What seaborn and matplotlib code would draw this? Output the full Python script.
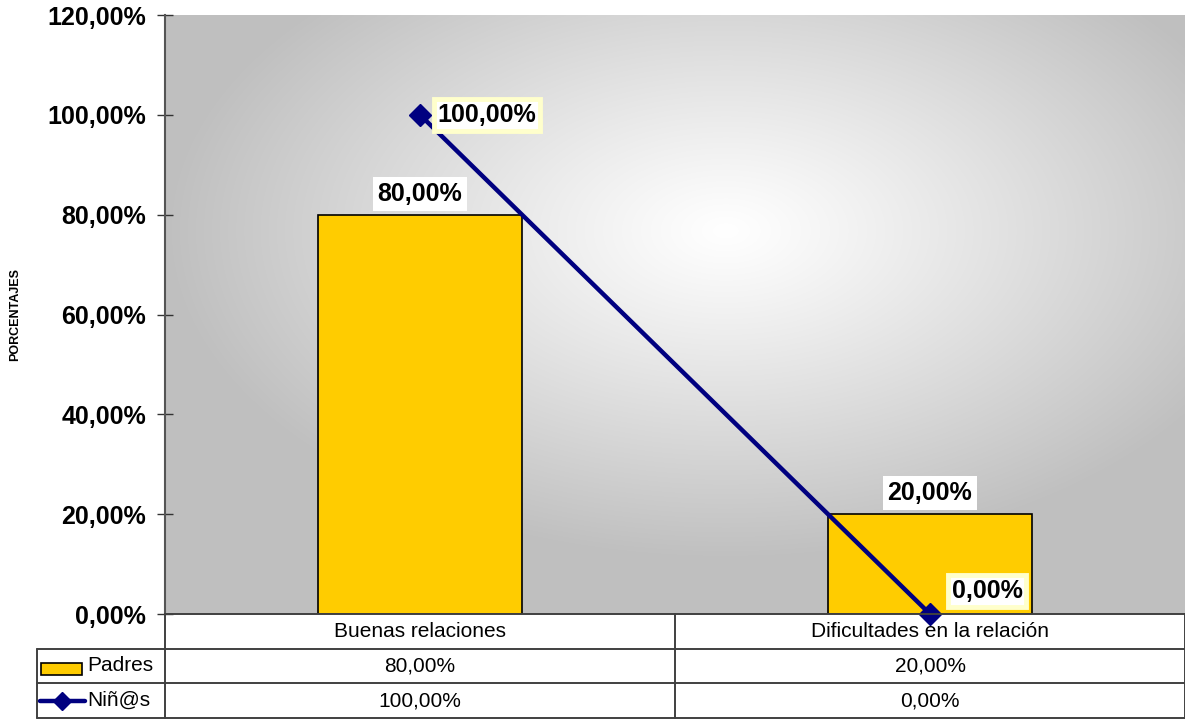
import numpy as np
import matplotlib
matplotlib.use("Agg")
import matplotlib.pyplot as plt
import seaborn as sns
import pandas as pd
from matplotlib.patches import Rectangle
from matplotlib.lines import Line2D

categories = ["Buenas relaciones", "Dificultades en la relación"]
padres = [80.0, 20.0]
ninos = [100.0, 0.0]
series_names = ["Padres", "Niñ@s"]
yticks = [0, 20, 40, 60, 80, 100, 120]

def fmt(v):
    return f"{v:.2f}".replace(".", ",") + "%"

sns.set_theme(style="white")
plt.rcParams["font.family"] = ["Liberation Sans", "DejaVu Sans"]
plt.rcParams["text.color"] = "black"
plt.rcParams["ytick.color"] = "black"
plt.rcParams["axes.labelcolor"] = "black"

W, H = 1185, 719
fig = plt.figure(figsize=(W / 100, H / 100), dpi=100)
fig.patch.set_facecolor("white")

ax_l, ax_r, ax_t, ax_b = 165, 1185, 15, 614
ax = fig.add_axes([ax_l / W, (H - ax_b) / H, (ax_r - ax_l) / W, (ax_b - ax_t) / H])

# gradient background
ny, nx = 300, 500
yy, xx = np.mgrid[0:1:ny * 1j, 0:1:nx * 1j]
cx, cy = 0.55, 0.64
d = np.sqrt(((xx - cx) / 0.55) ** 2 + ((yy - cy) / 0.55) ** 2)
t = np.clip(d, 0, 1) ** 1.1
gray = 0.75
img = 1 - (1 - gray) * t
rgb = np.dstack([img, img, img])
ax.imshow(rgb, extent=(0, 1, 0, 1), transform=ax.transAxes, origin="lower",
          aspect="auto", zorder=0, interpolation="bilinear")

df = pd.DataFrame({"cat": categories, "val": padres})
sns.barplot(data=df, x="cat", y="val", color="#FFCC00", edgecolor="black",
            linewidth=1.2, width=0.4, saturation=1, ax=ax, zorder=2)
xpos = np.arange(len(categories))
ax.plot(xpos, ninos, color="#000080", lw=3.2, marker="D", markersize=11,
        zorder=4, clip_on=False)

ax.set_xlim(-0.5, len(categories) - 0.5)
ax.set_ylim(0, 120)
ax.set_yticks(yticks)
ax.set_yticklabels([fmt(v) for v in yticks], fontsize=18, fontweight="bold")
ax.tick_params(axis="y", direction="inout", length=11, width=1, color="#333333",
               left=True, pad=8)
ax.set_xticks([])
ax.set_xlabel("")
ax.set_ylabel("PORCENTAJES", fontsize=9, fontweight="bold", labelpad=19)
for s in ["top", "right", "bottom"]:
    ax.spines[s].set_visible(False)
ax.spines["left"].set_color("#555555")
ax.spines["left"].set_linewidth(1.5)

# data labels
for i, v in enumerate(padres):
    ax.annotate(fmt(v), (i, v), xytext=(0, 15), textcoords="offset points",
                ha="center", va="center", fontsize=18, fontweight="bold", zorder=5,
                bbox=dict(boxstyle="square,pad=0.2", fc="white", ec="none"))
for i, v in enumerate(ninos):
    off = (48, 0) if i == 0 else (41, 16.5)
    ax.annotate(fmt(v), (i, v), xytext=off, textcoords="offset points",
                ha="center", va="center", fontsize=18, fontweight="bold", zorder=5,
                annotation_clip=False,
                bbox=dict(boxstyle="square,pad=0.15", fc="white", ec="#FFFFCC", lw=3.5))

# data table
tax = fig.add_axes([ax_l / W, 0, (ax_r - ax_l) / W, (H - ax_b) / H])
tax.set_xlim(ax.get_xlim())
tax.set_ylim(3.03, 0)
tax.axis("off")
x0, x1 = ax.get_xlim()
unit = (ax_r - ax_l) / (x1 - x0)
left_col = x0 - 128 / unit
lc = "#404040"
lw = 1.4
tax.add_line(Line2D([x0, x1], [0, 0], color=lc, lw=lw, clip_on=False))
for r in [1, 2, 3]:
    tax.add_line(Line2D([left_col, x1], [r, r], color=lc, lw=lw, clip_on=False))
tax.add_line(Line2D([left_col, left_col], [1, 3], color=lc, lw=lw, clip_on=False))
for xv in [x0] + [i + 0.5 for i in range(len(categories) - 1)] + [x1]:
    tax.add_line(Line2D([xv, xv], [0, 3], color=lc, lw=lw, clip_on=False))

for i, c in enumerate(categories):
    tax.text(i, 0.5, c, ha="center", va="center", fontsize=15)
    tax.text(i, 1.5, fmt(padres[i]), ha="center", va="center", fontsize=15)
    tax.text(i, 2.5, fmt(ninos[i]), ha="center", va="center", fontsize=15)

u = 1 / unit
tax.add_patch(Rectangle((left_col + 4 * u, 1.42), 41 * u, 0.34, fc="#FFCC00",
                        ec="black", lw=1.2, clip_on=False))
tax.add_line(Line2D([left_col + 3 * u, left_col + 48 * u], [2.5, 2.5], color="#000080",
                    lw=3.2, clip_on=False))
tax.add_line(Line2D([left_col + 25 * u], [2.5], color="#000080", marker="D",
                    markersize=9, clip_on=False))
for r, name in enumerate(series_names):
    tax.text(left_col + 50 * u, 1.5 + r, name, ha="left", va="center", fontsize=15)

fig.savefig("out.png", dpi=100, facecolor="white")
